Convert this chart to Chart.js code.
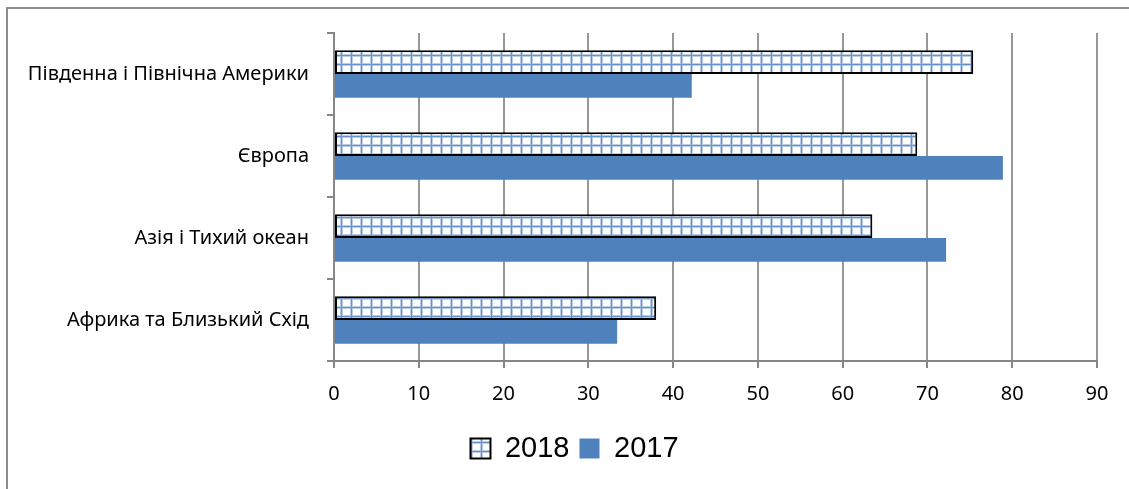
<!DOCTYPE html>
<html lang="uk">
<head>
<meta charset="utf-8"/>
<title>Регіони 2017-2018</title>
<script src="https://cdn.jsdelivr.net/npm/chart.js"></script>
<style>
    body {
      margin: 0;
      padding: 0;
      background: #fff;
      overflow: hidden;
    }
    .frame {
      position: absolute;
      left: 6px;
      top: 7px;
      width: 1200px;
      height: 600px;
      border-left: 2px solid #8c8c8c;
      border-top: 2px solid #8c8c8c;
    }
    .chart-box {
      position: absolute;
      left: 0;
      top: 0;
      width: 1129px;
      height: 489px;
    }
  </style>
</head>
<body>
<div class="frame"></div>
<div class="chart-box">
<canvas id="barChart" width="1129" height="489"></canvas>
</div>
<script>
    const kategori = ['Південна і Північна Америки', 'Європа', 'Азія і Тихий океан', 'Африка та Близький Схід'];
    const tahun = ['2018', '2017'];
    const nilai2018 = [75.4, 68.8, 63.5, 38.0];
    const nilai2017 = [42.2, 78.9, 72.2, 33.4];
    const xMax = 90;
    const xStep = 10;

    // checkered fill for 2018
    function kotak() {
      const c = document.createElement('canvas');
      c.width = 10;
      c.height = 9;
      const g = c.getContext('2d');
      g.fillStyle = '#ffffff';
      g.fillRect(0, 0, 10, 9);
      g.fillStyle = '#b9cde8';
      g.fillRect(0, 0, 3, 9);
      g.fillRect(0, 0, 10, 3);
      g.fillStyle = '#6792ca';
      g.fillRect(1, 0, 1, 9);
      g.fillRect(0, 1, 10, 1);
      return g.createPattern(c, 'repeat');
    }

    // legend sits a bit right of centre in the original
    const geserLegend = {
      id: 'geserLegend',
      afterLayout(chart) {
        chart.legend.left += 26;
        chart.legend.right += 26;
      }
    };

    const font = "'Noto Sans', 'Liberation Sans', sans-serif";
    const fontLegend = "'Liberation Sans', Arial, sans-serif";

    const ctx = document.getElementById('barChart').getContext('2d');
    new Chart(ctx, {
      type: 'bar',
      data: {
        labels: kategori,
        datasets: [{
          label: tahun[0],
          data: nilai2018,
          backgroundColor: kotak(),
          borderColor: '#000000',
          borderWidth: 2,
          borderSkipped: false,
          categoryPercentage: 0.58,
          barPercentage: 1
        }, {
          label: tahun[1],
          data: nilai2017,
          backgroundColor: '#4f81bd',
          borderWidth: 0,
          categoryPercentage: 0.58,
          barPercentage: 1
        }]
      },
      options: {
        indexAxis: 'y',
        responsive: false,
        animation: false,
        layout: {
          padding: { top: 33, right: 32, left: 0, bottom: 16 }
        },
        scales: {
          x: {
            min: 0,
            max: xMax,
            ticks: {
              stepSize: xStep,
              color: '#000',
              font: { family: font, size: 20 },
              padding: 14
            },
            grid: {
              color: '#989898',
              lineWidth: 2,
              tickLength: 7,
              tickColor: '#868686'
            },
            border: { color: '#868686', width: 2 },
            afterFit: s => { s.height = 63; }
          },
          y: {
            ticks: {
              color: '#000',
              font: { family: font, size: 20 },
              padding: 18
            },
            grid: {
              offset: true,
              drawOnChartArea: false,
              tickLength: 7,
              color: '#868686',
              lineWidth: 2
            },
            border: { color: '#868686', width: 2 },
            afterFit: s => { s.width = 334; }
          }
        },
        plugins: {
          legend: {
            position: 'bottom',
            labels: {
              color: '#000',
              boxWidth: 20,
              boxHeight: 20,
              padding: 10,
              font: { family: fontLegend, size: 29 }
            }
          },
          tooltip: { enabled: false }
        }
      },
      plugins: [geserLegend]
    });
  </script>
</body>
</html>
